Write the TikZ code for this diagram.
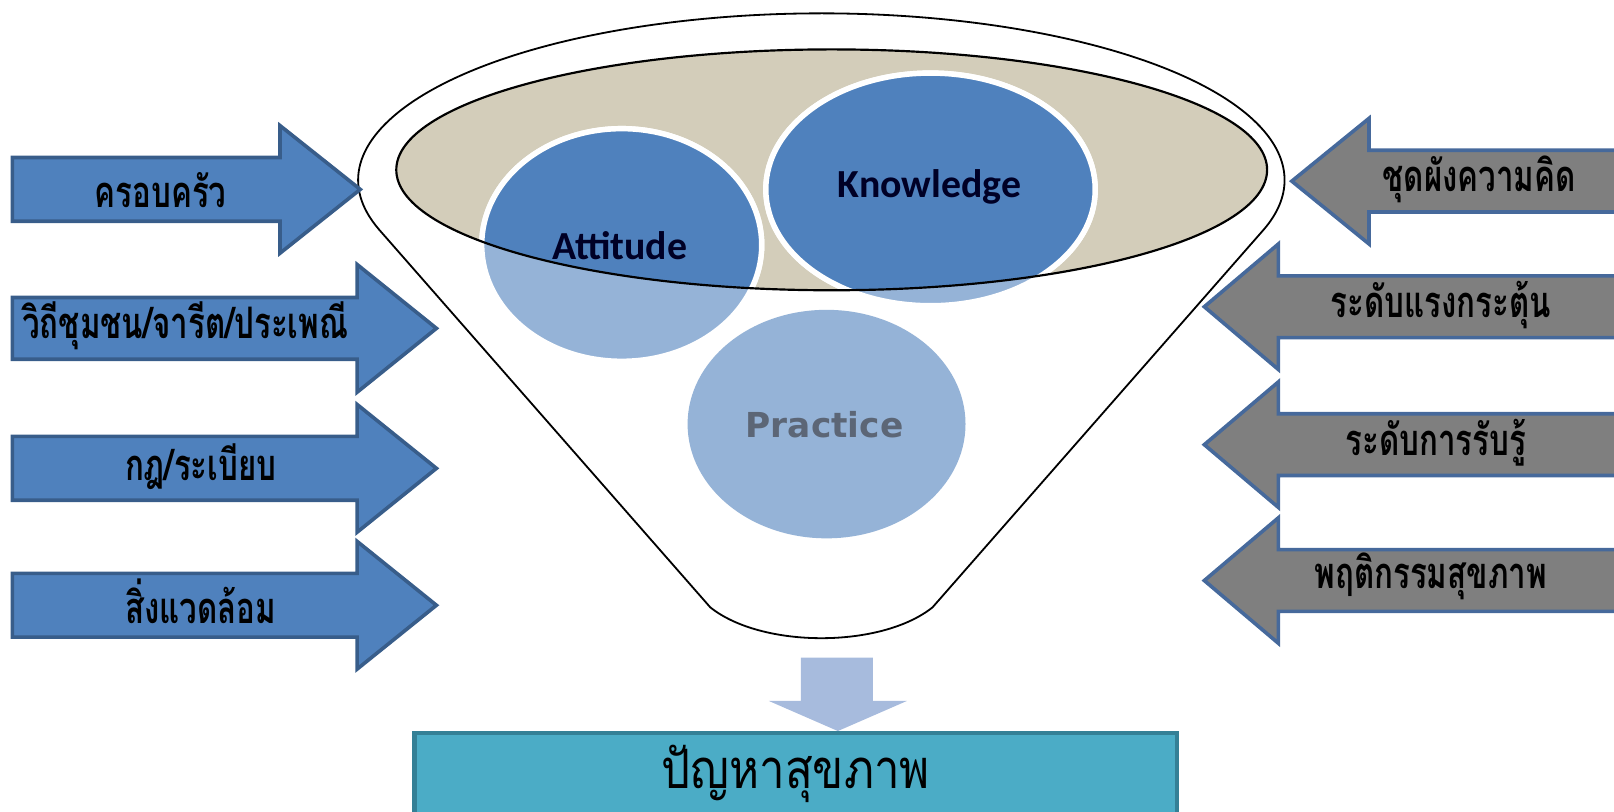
\documentclass[tikz,border=0pt]{standalone}
\usepackage{fontspec}
\usetikzlibrary{positioning}
\newfontfamily\thaifont[Script=Thai,FakeStretch=0.72]{Loma}
\newfontfamily\thaibig[Script=Thai,FakeStretch=0.84]{Loma}
\newfontfamily\carlito{Carlito}
\newfontfamily\dejavu{DejaVu Sans}
\definecolor{inblue}{RGB}{79,129,189}
\definecolor{inblueline}{RGB}{56,93,138}
\definecolor{outgray}{RGB}{127,127,127}
\definecolor{outline}{RGB}{70,105,155}
\definecolor{tan}{RGB}{211,205,186}
\definecolor{lightblue}{RGB}{149,179,215}
\definecolor{pracgray}{RGB}{92,102,118}
\definecolor{downblue}{RGB}{167,187,221}
\definecolor{probteal}{RGB}{75,172,198}
\definecolor{probline}{RGB}{52,128,150}

\begin{document}
\begin{tikzpicture}[x=0.01cm,y=0.01cm,line join=miter,
    inarrow/.style={fill=inblue,draw=inblueline,line width=1pt},
    outarrow/.style={fill=outgray,draw=outline,line width=1pt},
    funnel/.style={draw=black,fill=white,line width=0.5pt},
    lightcirc/.style={fill=lightblue,draw=white,line width=1.5pt},
    darkcirc/.style={fill=inblue,draw=white,line width=1.5pt},
    thailabel/.style={font=\thaifont\bfseries\fontsize{12}{14}\selectfont,text=black},
    circlabel/.style={font=\carlito\bfseries\fontsize{11}{13}\selectfont,text=black!85!blue},
    problabel/.style={font=\thaibig\fontsize{15}{18}\selectfont,text=black}]

    \useasboundingbox (0,0) rectangle (1568,-788);

    \draw[funnel] ([shift={(798,-175)}]197.2:450 and 162) arc[start angle=197.2, end angle=-17.2, x radius=450, y radius=162]
        -- (906,-590) .. controls (856,-630) and (740,-630) .. (690,-590) -- cycle;
    \fill[tan] (808,-165) ellipse [x radius=423, y radius=117];

    \draw[lightcirc] (604,-238) ellipse [x radius=136, y radius=113];
    \draw[lightcirc] (904,-184) ellipse [x radius=160, y radius=113];
    \fill[lightblue] (803,-412) ellipse [x radius=135, y radius=111];
    \begin{scope}
        \clip (808,-165) ellipse [x radius=423, y radius=117];
        \draw[darkcirc] (604,-238) ellipse [x radius=136, y radius=113];
        \draw[darkcirc] (904,-184) ellipse [x radius=160, y radius=113];
    \end{scope}
    \draw[line width=0.6pt] (808,-165) ellipse [x radius=423, y radius=117];

    \node[circlabel] (attitude) at (602,-239) {Attitude};
    \node[circlabel] (knowledge) at (903,-182) {Knowledge};
    \node[font=\dejavu\bfseries\fontsize{9.5}{11}\selectfont,text=pracgray] (practice) at (801,-413) {Practice};

    \draw[inarrow] (12,-153) -- (272,-153) -- (272,-122) -- (350,-184) -- (272,-246) -- (272,-215) -- (12,-215) -- cycle;
    \draw[inarrow] (12,-289) -- (347,-289) -- (347,-257) -- (424,-319) -- (347,-381) -- (347,-349) -- (12,-349) -- cycle;
    \draw[inarrow] (12,-424) -- (347,-424) -- (347,-393) -- (424,-455) -- (347,-517) -- (347,-486) -- (12,-486) -- cycle;
    \draw[inarrow] (12,-557) -- (347,-557) -- (347,-526) -- (424,-588) -- (347,-650) -- (347,-619) -- (12,-619) -- cycle;

    \draw[outarrow] (1575,-146) -- (1330,-146) -- (1330,-115) -- (1255,-176) -- (1330,-237) -- (1330,-206) -- (1575,-206) -- cycle;
    \draw[outarrow] (1575,-268) -- (1242,-268) -- (1242,-237) -- (1170,-298) -- (1242,-359) -- (1242,-328) -- (1575,-328) -- cycle;
    \draw[outarrow] (1575,-402) -- (1242,-402) -- (1242,-371) -- (1170,-432) -- (1242,-493) -- (1242,-462) -- (1575,-462) -- cycle;
    \draw[outarrow] (1575,-534) -- (1242,-534) -- (1242,-503) -- (1170,-564) -- (1242,-625) -- (1242,-594) -- (1575,-594) -- cycle;

    \node[thailabel] (family) at (156,-185) {ครอบครัว};
    \node[thailabel] (custom) at (180,-316) {วิถีชุมชน/จารีต/ประเพณี};
    \node[thailabel] (rules) at (195,-453) {กฎ/ระเบียบ};
    \node[thailabel] (environ) at (195,-584) {สิ่งแวดล้อม};

    \node[thailabel] (mindset) at (1437,-174) {ชุดผังความคิด};
    \node[thailabel] (motive) at (1400,-296) {ระดับแรงกระตุ้น};
    \node[thailabel] (percept) at (1395,-430) {ระดับการรับรู้};
    \node[thailabel] (behave) at (1390,-560) {พฤติกรรมสุขภาพ};

    \node[problabel, fill=probteal, draw=probline, line width=1.2pt, minimum width=7.4cm, minimum height=0.69cm] (problem) at (773,-752) {ปัญหาสุขภาพ};

    \fill[downblue] (778,-639) -- (848,-639) -- (848,-681) -- (881,-681) -- (problem.north -| 814,0) -- (747,-681) -- (778,-681) -- cycle;
\end{tikzpicture}
\end{document}
